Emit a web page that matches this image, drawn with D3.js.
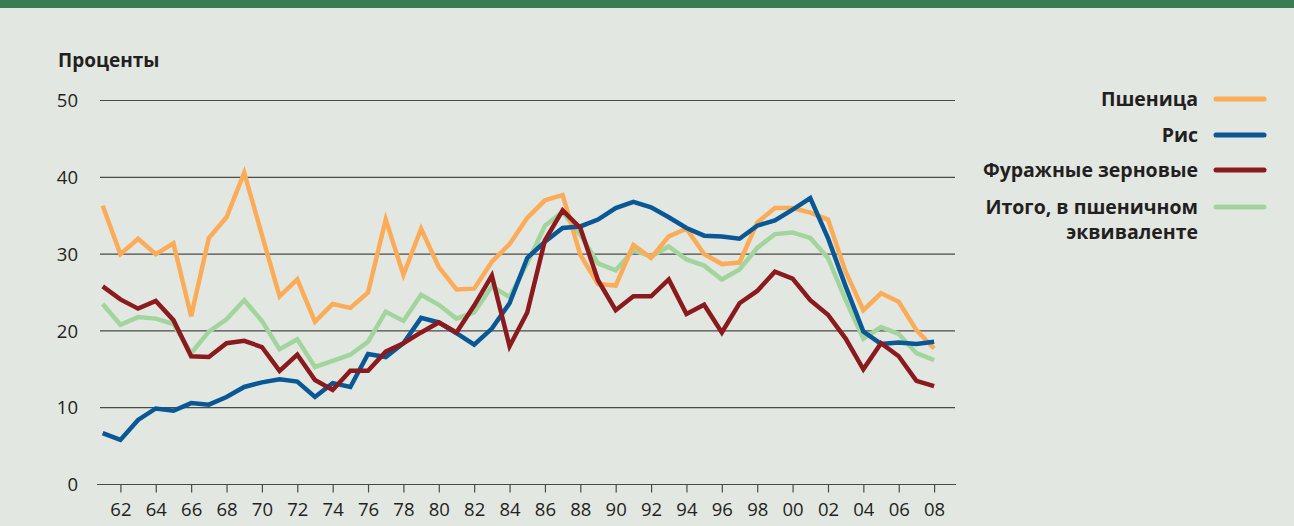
<!DOCTYPE html>
<html>
<head>
<meta charset="utf-8">
<script src="https://cdn.jsdelivr.net/npm/d3@7"></script>
<style>
	body { margin: 0; background: #e2e7e1; }
	svg { display: block; font-family: "Open Sans", "DejaVu Sans", sans-serif; }
</style>
</head>
<body>
<div id="chart"></div>
<script>
// годы 1961-2008
var years = d3.range(1961, 2009);
var tickYears = d3.range(1962, 2009, 2);
var yTicks = [0, 10, 20, 30, 40, 50];

var wheat = [36.3, 30.0, 32.0, 30.0, 31.4, 21.9, 32.1, 34.8, 40.6, 32.5,
	24.5, 26.7, 21.2, 23.5, 23.0, 25.0, 34.5, 27.3, 33.3, 28.3,
	25.4, 25.5, 29.0, 31.3, 34.7, 37.0, 37.7, 29.9, 26.1, 25.9,
	31.2, 29.5, 32.3, 33.3, 30.0, 28.7, 28.9, 34.1, 36.0, 36.0,
	35.4, 34.5, 27.7, 22.7, 24.9, 23.8, 20.1, 17.7];
var rice = [6.7, 5.8, 8.4, 9.9, 9.6, 10.6, 10.4, 11.4, 12.7, 13.3,
	13.7, 13.4, 11.4, 13.2, 12.7, 17.0, 16.6, 18.4, 21.7, 21.1,
	19.7, 18.2, 20.3, 23.6, 29.5, 31.6, 33.4, 33.6, 34.5, 36.0,
	36.8, 36.1, 34.8, 33.4, 32.4, 32.3, 32.0, 33.7, 34.4, 35.8,
	37.3, 32.1, 25.8, 19.9, 18.3, 18.5, 18.3, 18.6];
var feed = [25.8, 24.1, 22.9, 23.9, 21.4, 16.7, 16.6, 18.4, 18.7, 17.9,
	14.8, 16.9, 13.6, 12.3, 14.8, 14.8, 17.3, 18.4, 19.8, 21.1,
	19.8, 23.3, 27.2, 18.0, 22.4, 31.8, 35.7, 33.4, 26.6, 22.7,
	24.5, 24.5, 26.7, 22.2, 23.4, 19.8, 23.6, 25.2, 27.7, 26.8,
	24.0, 22.1, 19.0, 15.0, 18.4, 16.7, 13.5, 12.8];
var total = [23.5, 20.8, 21.8, 21.6, 20.9, 17.1, 19.9, 21.5, 24.0, 21.3,
	17.6, 18.9, 15.3, 16.1, 16.9, 18.6, 22.5, 21.3, 24.7, 23.4,
	21.6, 22.4, 25.8, 24.4, 28.8, 33.7, 35.5, 32.5, 28.8, 27.9,
	30.5, 29.7, 31.0, 29.3, 28.5, 26.7, 28.0, 30.8, 32.6, 32.8,
	32.1, 29.5, 24.0, 19.0, 20.5, 19.6, 17.1, 16.2];

var seriesNames = ["Пшеница", "Рис", "Фуражные зерновые", "Итого, в пшеничном|эквиваленте"];
var seriesColors = ["#fcac58", "#0a5796", "#8b1a1e", "#a2d59e"];

var width = 1294, height = 526;

var svg = d3.select("#chart").append("svg")
	.attr("width", width)
	.attr("height", height);

svg.append("rect")
	.attr("width", width).attr("height", 8)
	.attr("fill", "#3b7d53");

var x = d3.scaleLinear()
	.domain([1961, 2008])
	.range([102.7, 934.1]);

var y = d3.scaleLinear()
	.domain([0, 50])
	.range([484.5, 100.5]);

// сетка
svg.append("g")
	.selectAll("line")
	.data(yTicks.filter(function(d) { return d > 0; }))
	.enter().append("line")
		.attr("x1", 100).attr("x2", 955)
		.attr("y1", function(d) { return y(d); })
		.attr("y2", function(d) { return y(d); })
		.attr("stroke", "#4a4a46")
		.attr("stroke-width", 1.2);

svg.append("g")
	.selectAll("text")
	.data(yTicks)
	.enter().append("text")
		.attr("x", 78)
		.attr("y", function(d) { return y(d); })
		.attr("dy", "0.36em")
		.attr("text-anchor", "end")
		.attr("font-size", 18.5)
		.attr("fill", "#231f20")
		.text(function(d) { return d; });

// ось X
var xAxis = d3.axisBottom(x)
	.tickValues(tickYears)
	.tickSize(8)
	.tickPadding(10)
	.tickFormat(function(d) { return String(d).slice(2); });

var gx = svg.append("g")
	.attr("transform", "translate(0," + y(0) + ")")
	.call(xAxis);
gx.select(".domain").remove();
gx.append("line")
	.attr("x1", 97).attr("x2", 956)
	.attr("stroke", "#4a4a46").attr("stroke-width", 1.2);
gx.selectAll(".tick line").attr("stroke", "#4a4a46").attr("stroke-width", 1.2);
gx.selectAll(".tick text")
	.attr("font-size", 18.5)
	.attr("font-family", "\"Open Sans\", sans-serif")
	.attr("fill", "#231f20");

svg.append("text")
	.attr("x", 58).attr("y", 67)
	.attr("font-size", 19)
	.attr("font-weight", "bold")
	.attr("fill", "#231f20")
	.text("Проценты");

var line = d3.line()
	.x(function(d, i) { return x(years[i]); })
	.y(function(d) { return y(d); });

var drawOrder = [3, 0, 1, 2];
var allSeries = [wheat, rice, feed, total];
drawOrder.forEach(function(k) {
	svg.append("path")
		.datum(allSeries[k])
		.attr("fill", "none")
		.attr("stroke", seriesColors[k])
		.attr("stroke-width", 4.5)
		.attr("stroke-linejoin", "miter")
		.attr("d", line);
});

// легенда
var legendY = [99, 135, 170, 207];
var legend = svg.append("g");
seriesNames.forEach(function(name, i) {
	var parts = name.split("|");
	parts.forEach(function(p, j) {
		legend.append("text")
			.attr("x", 1198)
			.attr("y", legendY[i] + j * 25)
			.attr("dy", "0.36em")
			.attr("text-anchor", "end")
			.attr("font-size", 19.5)
			.attr("font-weight", "bold")
			.attr("fill", "#231f20")
			.text(p);
	});
	legend.append("line")
		.attr("x1", 1216).attr("x2", 1264)
		.attr("y1", legendY[i]).attr("y2", legendY[i])
		.attr("stroke", seriesColors[i])
		.attr("stroke-width", 5)
		.attr("stroke-linecap", "round");
});
</script>
</body>
</html>
